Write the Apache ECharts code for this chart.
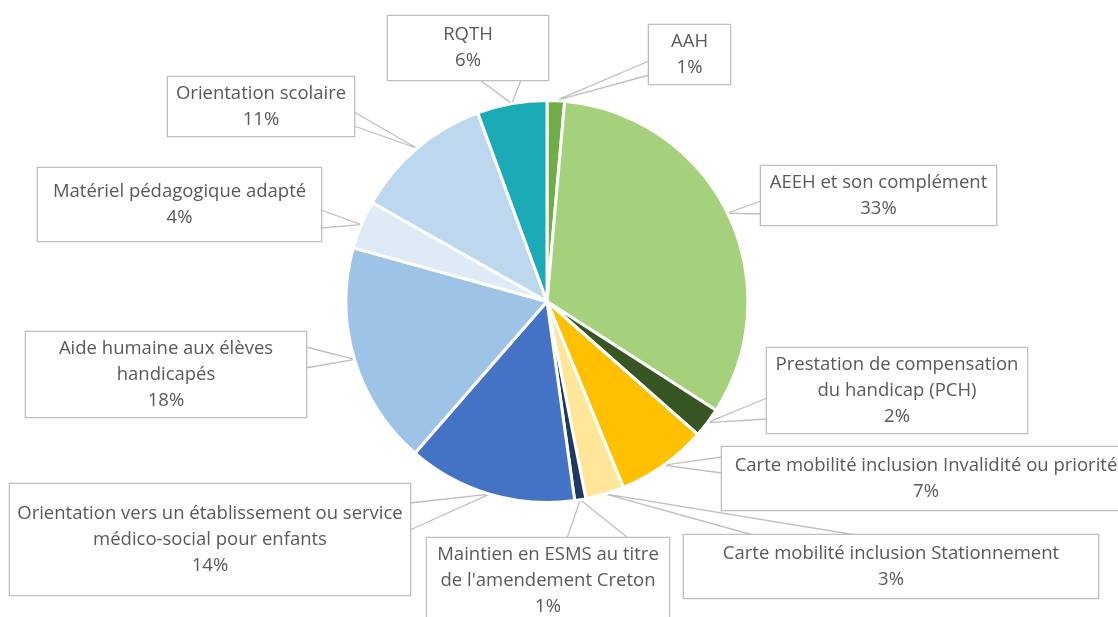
<!DOCTYPE html>
<html>
<head>
<meta charset="utf-8">
<script src="https://cdn.jsdelivr.net/npm/echarts@6/dist/echarts.min.js"></script>
<style>
  html, body { margin: 0; padding: 0; background: #fff; }
  #chart { width: 1118px; height: 617px; }
</style>
</head>
<body>
<div id="chart"></div>
<script>
var categories = [
  'AAH',
  'AEEH et son complément',
  'Prestation de compensation\ndu handicap (PCH)',
  'Carte mobilité inclusion Invalidité ou priorité',
  'Carte mobilité inclusion Stationnement',
  "Maintien en ESMS au titre\nde l'amendement Creton",
  'Orientation vers un établissement ou service\nmédico-social pour enfants',
  'Aide humaine aux élèves\nhandicapés',
  'Matériel pédagogique adapté',
  'Orientation scolaire',
  'RQTH'
];
var shares = [1.4, 32.7, 2.4, 7.3, 3.1, 0.9, 13.6, 17.9, 3.9, 11.2, 5.6];
var colors = ['#70AD47', '#A5D17D', '#375623', '#FFC000', '#FFE699', '#203864',
  '#4472C4', '#9DC3E6', '#DEEBF7', '#BDD7EE', '#1AABB6'];

// callout boxes (centre, size, lines of text) and the two points where the pointer leaves the box
var boxes = [
  { cx: 689.5, cy: 54.5, w: 81, h: 59, lines: 2, base: [[649, 61], [649, 75]] },
  { cx: 878.5, cy: 195.5, w: 235, h: 59, lines: 2, base: [[761, 201], [761, 214]] },
  { cx: 897, cy: 390.5, w: 260, h: 85, lines: 3, base: [[767, 398], [767, 419]] },
  { cx: 926, cy: 478.5, w: 408, h: 63, lines: 2, base: [[722, 457], [722, 473]] },
  { cx: 891, cy: 566.5, w: 414, h: 63, lines: 2, base: [[753, 535], [856, 535]] },
  { cx: 548, cy: 580.5, w: 242, h: 85, lines: 3, base: [[567, 538], [628, 538]] },
  { cx: 210, cy: 539.5, w: 400, h: 111, lines: 3, base: [[410, 503], [410, 530]] },
  { cx: 166, cy: 374.5, w: 280, h: 85, lines: 3, base: [[306, 347], [306, 368]] },
  { cx: 179.5, cy: 204.5, w: 283, h: 73, lines: 2, base: [[321, 210], [321, 228]] },
  { cx: 261, cy: 106.5, w: 186, h: 59, lines: 2, base: [[354, 112], [354, 126]] },
  { cx: 468, cy: 48, w: 160, h: 64, lines: 2, base: [[480, 80], [521, 80]] }
];

var lineH = 26;

var data = categories.map(function (name, i) {
  var b = boxes[i];
  var pad = (b.h - b.lines * lineH) / 2;
  return {
    name: name,
    value: shares[i],
    itemStyle: { color: colors[i] },
    label: { width: b.w, padding: [pad + 1.5, 0, pad - 1.5, 0] }
  };
});

var chart = echarts.init(document.getElementById('chart'));
chart.setOption({
  animation: false,
  series: [{
    type: 'pie',
    center: [547, 301.5],
    radius: 201,
    startAngle: 90,
    clockwise: true,
    avoidLabelOverlap: false,
    itemStyle: { borderColor: '#fff', borderWidth: 3 },
    emphasis: { disabled: true },
    label: {
      show: true,
      position: 'outside',
      formatter: function (p) { return p.name + '\n' + Math.round(p.percent) + '%'; },
      fontFamily: 'Open Sans',
      fontSize: 18.5,
      lineHeight: lineH,
      color: '#595959',
      align: 'center',
      backgroundColor: '#fff',
      borderColor: '#BFBFBF',
      borderWidth: 1.3
    },
    labelLine: {
      show: true,
      length: 5,
      length2: 5,
      lineStyle: { color: '#BFBFBF', width: 1.3 }
    },
    labelLayout: function (params) {
      var b = boxes[params.dataIndex];
      var tip = params.labelLinePoints ? params.labelLinePoints[0] : [b.cx, b.cy];
      return {
        x: b.cx,
        y: b.cy,
        align: 'center',
        verticalAlign: 'middle',
        labelLinePoints: [b.base[0], tip, b.base[1]]
      };
    },
    data: data
  }]
});
</script>
</body>
</html>
